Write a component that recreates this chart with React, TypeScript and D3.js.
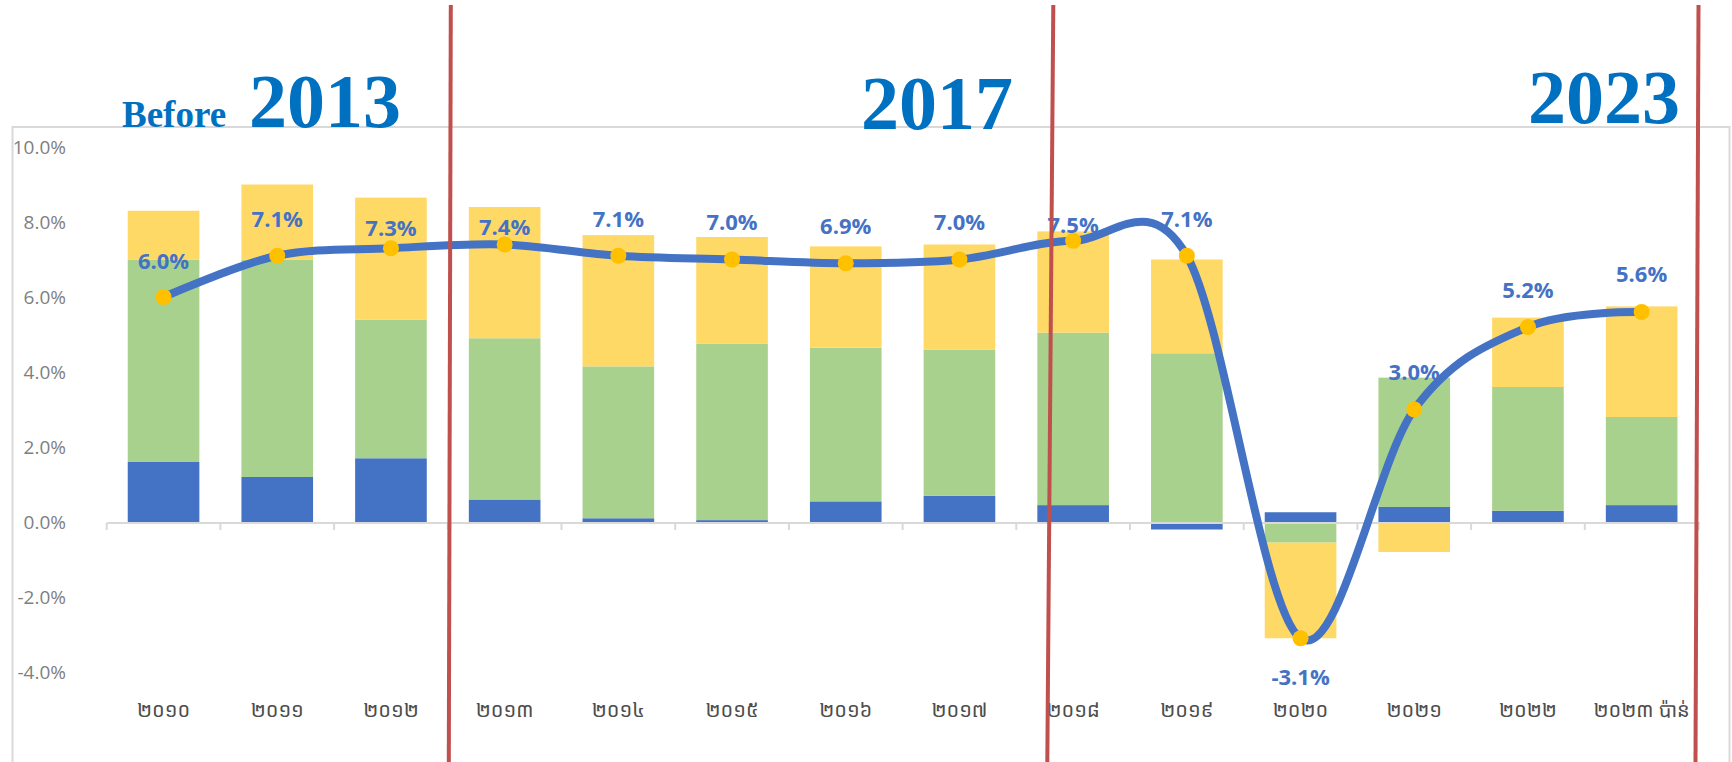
import { useEffect, useRef } from 'react';
import * as d3 from 'd3';

// Khmer year labels, last one is the estimate
const years = ['២០១០', '២០១១', '២០១២', '២០១៣', '២០១៤', '២០១៥', '២០១៦', '២០១៧', '២០១៨', '២០១៩', '២០២០', '២០២១', '២០២២', '២០២៣ ប៉ាន់'];

// contribution to growth, percentage points
const agriculture = [1.6, 1.2, 1.7, 0.6, 0.1, 0.05, 0.55, 0.7, 0.45, -0.2, 0.26, 0.4, 0.3, 0.45];
const industry = [5.4, 5.8, 3.7, 4.3, 4.05, 4.7, 4.1, 3.9, 4.6, 4.5, -0.55, 3.45, 3.3, 2.35];
const services = [1.3, 2.0, 3.25, 3.5, 3.5, 2.85, 2.7, 2.8, 2.7, 2.5, -2.55, -0.8, 1.85, 2.95];

// real GDP growth, %
const growth = [6.0, 7.1, 7.3, 7.4, 7.1, 7.0, 6.9, 7.0, 7.5, 7.1, -3.1, 3.0, 5.2, 5.6];

const yTicks = [-4, -2, 0, 2, 4, 6, 8, 10];

// vertical shift of each data label from its point (px)
const labelShift = [-36, -37, -20, -17, -37, -37, -37, -37, -16, -37, 39, -37, -37, -38];

// period headings
const headings = [
  { text: 'Before', size: 37, x: 122, base: 127 },
  { text: '2013', size: 76, x: 249, base: 127 },
  { text: '2017', size: 76, x: 861, base: 129 },
  { text: '2023', size: 76, x: 1528, base: 123 },
];

// red dividers: band boundary index + offsets at top / bottom
const dividers = [
  { index: 3, top: 3, bottom: 1 },
  { index: 8, top: 37, bottom: 31 },
  { index: 14, top: 0, bottom: -3 },
];

const colors: Record<string, string> = {
  agriculture: '#4472C4',
  industry: '#A9D18E',
  services: '#FFD966',
};

export default function App() {
  const ref = useRef<SVGSVGElement>(null);

  useEffect(() => {
    if (!ref.current) return;
    const svg = d3.select(ref.current);
    svg.selectAll('*').remove();

    const W = 1732;
    const H = 762;

    svg.append('rect').attr('width', W).attr('height', H).attr('fill', '#fff');

    // chart frame
    svg
      .append('rect')
      .attr('x', 12.5)
      .attr('y', 127)
      .attr('width', 1717)
      .attr('height', 700)
      .attr('fill', 'none')
      .attr('stroke', '#d9d9d9')
      .attr('stroke-width', 2);

    const x = d3
      .scaleBand()
      .domain(years)
      .range([106.7, 1698.5])
      .paddingInner(0.37)
      .paddingOuter(0.185);

    const y = d3.scaleLinear().domain([-4, 10]).range([672, 147]);

    const rows = years.map((yr, i) => ({
      year: yr,
      agriculture: agriculture[i],
      industry: industry[i],
      services: services[i],
    }));

    const keys = ['agriculture', 'industry', 'services'];
    const stacked = d3
      .stack<any>()
      .keys(keys)
      .offset(d3.stackOffsetDiverging)(rows);

    // y labels
    svg
      .append('g')
      .selectAll('text')
      .data(yTicks)
      .enter()
      .append('text')
      .attr('x', 66)
      .attr('y', (d) => y(d))
      .attr('dy', '0.36em')
      .attr('text-anchor', 'end')
      .attr('font-family', 'Open Sans, sans-serif')
      .attr('font-size', 19)
      .attr('fill', '#7f7f7f')
      .text((d) => `${d.toFixed(1)}%`);

    // bars
    svg
      .append('g')
      .selectAll('g')
      .data(stacked)
      .enter()
      .append('g')
      .attr('fill', (s) => colors[s.key])
      .selectAll('rect')
      .data((s) => s)
      .enter()
      .append('rect')
      .attr('x', (d) => x(d.data.year) || 0)
      .attr('width', x.bandwidth())
      .attr('y', (d) => y(Math.max(d[0], d[1])))
      .attr('height', (d) => Math.abs(y(d[0]) - y(d[1])));

    // x axis line and ticks
    const x0 = x.range()[0];
    const step = x.step();
    const axis = svg.append('g').attr('stroke', '#d9d9d9').attr('stroke-width', 2);
    axis
      .append('line')
      .attr('x1', x0)
      .attr('x2', 1700)
      .attr('y1', y(0) + 1)
      .attr('y2', y(0) + 1);
    axis
      .selectAll('.tick')
      .data(d3.range(years.length + 1))
      .enter()
      .append('line')
      .attr('x1', (i) => x0 + i * step)
      .attr('x2', (i) => x0 + i * step)
      .attr('y1', y(0) + 1)
      .attr('y2', y(0) + 8);

    // x labels (right end cut like the source)
    svg
      .append('clipPath')
      .attr('id', 'xclip')
      .append('rect')
      .attr('x', 0)
      .attr('y', 0)
      .attr('width', 1695)
      .attr('height', H);

    svg
      .append('g')
      .attr('clip-path', 'url(#xclip)')
      .selectAll('text')
      .data(years)
      .enter()
      .append('text')
      .attr('x', (d) => (x(d) || 0) + x.bandwidth() / 2)
      .attr('y', 710)
      .attr('dy', '0.36em')
      .attr('text-anchor', 'middle')
      .attr('font-family', "'Noto Sans Khmer', 'Khmer OS', 'Khmer OS System', 'DejaVu Sans', sans-serif")
      .attr('font-size', 20)
      .attr('fill', '#4d4d4d')
      .text((d) => d);

    // growth line
    const line = d3
      .line<number>()
      .x((_, i) => (x(years[i]) || 0) + x.bandwidth() / 2)
      .y((d) => y(d))
      .curve(d3.curveCardinal.tension(0));

    svg
      .append('path')
      .datum(growth)
      .attr('fill', 'none')
      .attr('stroke', '#4472C4')
      .attr('stroke-width', 8)
      .attr('stroke-linecap', 'round')
      .attr('d', line);

    svg
      .append('g')
      .selectAll('circle')
      .data(growth)
      .enter()
      .append('circle')
      .attr('cx', (_, i) => (x(years[i]) || 0) + x.bandwidth() / 2)
      .attr('cy', (d) => y(d))
      .attr('r', 8)
      .attr('fill', '#FFC000');

    svg
      .append('g')
      .selectAll('text')
      .data(growth)
      .enter()
      .append('text')
      .attr('x', (_, i) => (x(years[i]) || 0) + x.bandwidth() / 2)
      .attr('y', (d, i) => y(d) + labelShift[i])
      .attr('dy', '0.36em')
      .attr('text-anchor', 'middle')
      .attr('font-family', 'Open Sans, sans-serif')
      .attr('font-weight', 700)
      .attr('font-size', 22)
      .attr('fill', '#4472C4')
      .text((d) => `${d.toFixed(1)}%`);

    // period headings
    svg
      .append('g')
      .attr('font-family', "'Liberation Serif', 'Times New Roman', serif")
      .attr('font-weight', 700)
      .attr('fill', '#0070C0')
      .selectAll('text')
      .data(headings)
      .enter()
      .append('text')
      .attr('x', (d) => d.x)
      .attr('y', (d) => d.base)
      .attr('font-size', (d) => d.size)
      .text((d) => d.text);

    // red dividers
    svg
      .append('g')
      .selectAll('line')
      .data(dividers)
      .enter()
      .append('line')
      .attr('x1', (d) => x0 + d.index * step + d.top)
      .attr('x2', (d) => x0 + d.index * step + d.bottom)
      .attr('y1', 5)
      .attr('y2', H)
      .attr('stroke', '#C0504D')
      .attr('stroke-width', 4);
  }, []);

  return (
    <svg
      ref={ref}
      width={1732}
      height={762}
      style={{ position: 'absolute', left: 0, top: 0, display: 'block' }}
    />
  );
}
